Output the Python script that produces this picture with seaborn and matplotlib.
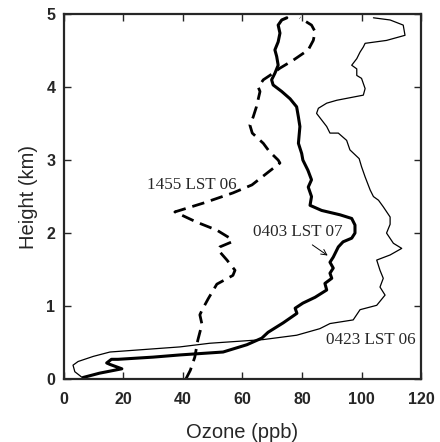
import numpy as np
import pandas as pd
import matplotlib
matplotlib.use('Agg')
import matplotlib.pyplot as plt
import seaborn as sns

# 1455 LST 06 (dashed)
o3_1455 = [41, 42.5, 44, 45, 46.4, 45.7, 46.5, 48.5, 51.4, 56.8, 57.5, 54.8, 51.8, 52.4,
           56.5, 55.8, 51.4, 44.6, 37.3, 46.8, 56.8, 63.2, 68.2, 72.6, 72, 69, 67, 63.3,
           62.5, 63.6, 64.7, 65.9, 65.3, 67, 69.2, 72.6, 77.1, 82.1, 83.8, 84.4, 83.2, 79.3]
z_1455 = [0.0, 0.12, 0.3, 0.53, 0.75, 0.88, 0.95, 1.1, 1.3, 1.42, 1.49, 1.63, 1.77, 1.81,
          1.88, 1.93, 2.04, 2.15, 2.29, 2.41, 2.55, 2.66, 2.82, 2.96, 3.0, 3.12, 3.23, 3.37,
          3.48, 3.59, 3.73, 3.94, 4.0, 4.1, 4.16, 4.26, 4.37, 4.51, 4.64, 4.76, 4.85, 4.95]

# 0403 LST 07 (thick)
o3_0403 = [6.4, 12, 19.5, 15.5, 14.4, 16, 18.2, 30, 39, 53.5, 61.5, 66.5, 68.6, 73.7, 78.3,
           77.7, 80.3, 84.4, 88.3, 87.7, 90, 89.4, 90.5, 89.4, 90.5, 92.2, 93.8, 96.7, 97.8,
           97.8, 96.7, 92.8, 86.6, 82.7, 83.2, 82.1, 83.2, 82, 80.3, 79.9, 78.8, 79.3, 78.8,
           78.2, 76, 73.2, 70.3, 69.8, 70.9, 72, 71.5, 70.9, 72, 72.6, 72, 73.2, 74.9]
z_0403 = [0.02, 0.08, 0.14, 0.2, 0.22, 0.27, 0.27, 0.3, 0.33, 0.37, 0.47, 0.56, 0.64, 0.77, 0.9,
          0.97, 1.04, 1.12, 1.22, 1.31, 1.38, 1.45, 1.52, 1.6, 1.67, 1.81, 1.88, 1.93, 2.0,
          2.11, 2.2, 2.25, 2.31, 2.38, 2.5, 2.63, 2.73, 2.86, 3.0, 3.09, 3.23, 3.46, 3.59,
          3.73, 3.84, 3.94, 4.03, 4.1, 4.19, 4.3, 4.42, 4.51, 4.62, 4.74, 4.85, 4.92, 4.95]

# 0423 LST 06 (thin)
o3_0423 = [5.9, 3.7, 3.1, 4.8, 9.9, 15.5, 39, 49, 66.9, 78.2, 86, 89.4, 97.2, 99.5, 105.1,
           107.9, 106.2, 107.3, 106.2, 105.1, 109.6, 113.5, 110.7, 108.4, 109.6, 109.6, 107.3,
           105.7, 104, 102.9, 101.2, 100, 99.2, 96.1, 95, 92.2, 89.4, 88.3, 86.6, 84.9, 85.5,
           88.3, 91.7, 100.6, 101.2, 100, 98.4, 98.4, 96.7, 98.4, 99.5, 100.6, 101.2, 108.4,
           114.6, 114, 109.6, 104]
z_0423 = [0.03, 0.1, 0.19, 0.24, 0.31, 0.37, 0.44, 0.49, 0.54, 0.6, 0.69, 0.76, 0.81, 0.95, 1.01,
          1.15, 1.26, 1.38, 1.49, 1.63, 1.7, 1.79, 1.86, 2.0, 2.12, 2.22, 2.36,
          2.45, 2.5, 2.59, 2.77, 2.91, 3.02, 3.14, 3.27, 3.37, 3.37, 3.46, 3.55, 3.64, 3.71,
          3.78, 3.82, 3.89, 3.98, 4.12, 4.16, 4.25, 4.3, 4.39, 4.48, 4.55, 4.6, 4.64,
          4.71, 4.85, 4.92, 4.95]

sns.set_style('ticks')
plt.rcParams.update({
    'xtick.direction': 'in', 'ytick.direction': 'in',
    'xtick.top': True, 'ytick.right': True,
    'xtick.major.size': 5, 'ytick.major.size': 5,
    'xtick.major.width': 1.0, 'ytick.major.width': 1.0,
    'axes.linewidth': 1.6,
})
plt.rcParams['font.family'] = ['Liberation Sans', 'DejaVu Sans']

fig, ax = plt.subplots(figsize=(4.4, 4.42), dpi=100)
fig.subplots_adjust(left=0.145, right=0.957, bottom=0.1425, top=0.968)

sns.lineplot(x=o3_1455, y=z_1455, sort=False, estimator=None, ax=ax,
             color='black', lw=2.0, linestyle=(0, (4.5, 2.5)))
sns.lineplot(x=o3_0403, y=z_0403, sort=False, estimator=None, ax=ax,
             color='black', lw=2.2)
sns.lineplot(x=o3_0423, y=z_0423, sort=False, estimator=None, ax=ax,
             color='black', lw=0.9)

ax.set_xlim(0, 120)
ax.set_ylim(0, 5)
ax.set_xticks([0, 20, 40, 60, 80, 100, 120])
ax.set_yticks([0, 1, 2, 3, 4, 5])
ax.tick_params(labelsize=11.5)
ax.tick_params(axis='x', pad=9)
ax.tick_params(axis='y', pad=6)
for lab in ax.get_xticklabels() + ax.get_yticklabels():
    lab.set_fontweight('bold')
ax.set_xlabel('Ozone (ppb)', fontsize=14.5, labelpad=12)
ax.set_ylabel('Height (km)', fontsize=14.5, labelpad=6)

serif = ['Liberation Serif', 'DejaVu Serif']
ax.text(43, 2.66, '1455 LST 06', family=serif, fontsize=12.3, ha='center', va='center')
ax.text(78.7, 2.01, '0403 LST 07', family=serif, fontsize=12.3, ha='center', va='center')
ax.text(103.2, 0.53, '0423 LST 06', family=serif, fontsize=12.3, ha='center', va='center')
ax.annotate('', xy=(89.4, 1.67), xytext=(82.7, 1.86),
            arrowprops=dict(arrowstyle='->', color='black', lw=0.7))

fig.savefig('out.png', dpi=100)
